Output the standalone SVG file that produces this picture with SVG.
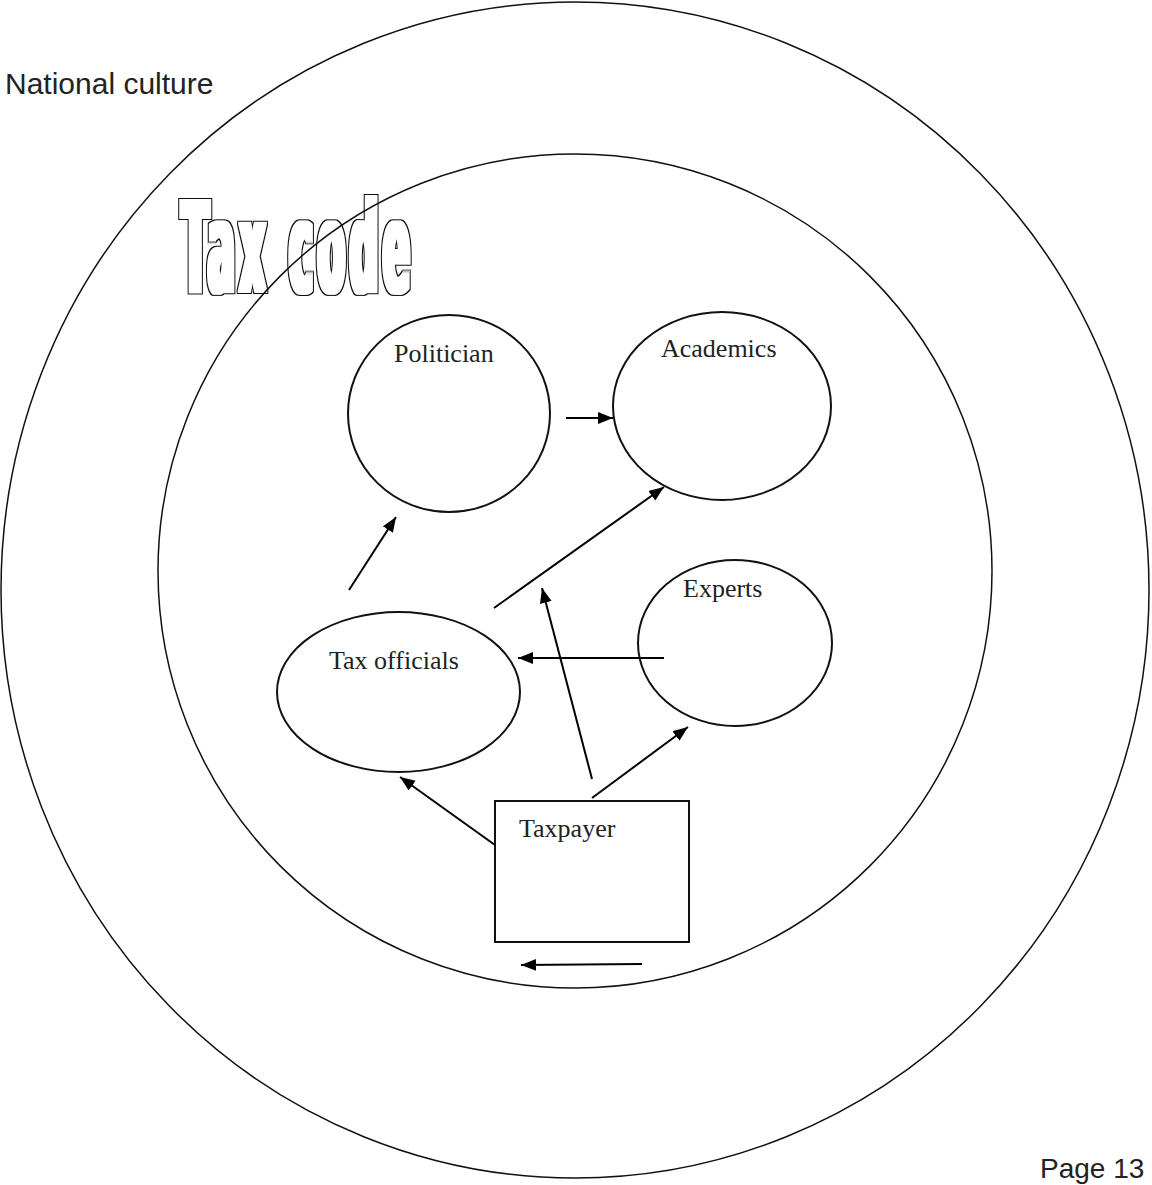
<svg xmlns="http://www.w3.org/2000/svg" width="1152" height="1185" viewBox="0 0 1152 1185">
<defs>
<marker id="ah" markerUnits="userSpaceOnUse" markerWidth="17" markerHeight="13" refX="15" refY="6" orient="auto">
<path d="M0,0 L15,6 L0,12 Z" fill="#000"/>
</marker>
<filter id="outline" x="-5%" y="-15%" width="110%" height="130%">
<feMorphology in="SourceAlpha" operator="dilate" radius="2.5 1" result="fat"/>
<feMorphology in="fat" operator="dilate" radius="1.4" result="fatter"/>
<feComposite in="fatter" in2="fat" operator="out" result="ring"/>
<feFlood flood-color="#111"/>
<feComposite in2="ring" operator="in"/>
</filter>
<style>
.ring{fill:none;stroke:#111;stroke-width:1.5}
.node{fill:none;stroke:#111;stroke-width:2}
.lbl{font-family:"Liberation Serif","Times New Roman",serif;font-size:26px;fill:#222}
.conn line{stroke:#000;stroke-width:2;marker-end:url(#ah)}
.sans{font-family:"Liberation Sans",Arial,sans-serif;fill:#222}
</style>
</defs>
<rect width="1152" height="1185" fill="#fff"/>
<g id="national-culture">
<ellipse class="ring" cx="575" cy="590" rx="574" ry="588"/>
<text class="sans" x="5" y="94" font-size="30">National culture</text>
</g>
<g id="tax-code">
<ellipse class="ring" cx="575" cy="571" rx="417" ry="417"/>
<g filter="url(#outline)">
<text transform="translate(182,292) scale(0.34,1)" x="0" y="0" font-family="DejaVu Sans Condensed,DejaVu Sans,sans-serif" font-weight="bold" font-size="127" letter-spacing="16" fill="#000">Tax code</text>
</g>
</g>
<g id="politician">
<ellipse class="node" cx="449" cy="413.5" rx="101" ry="98.5"/>
<text class="lbl" x="394" y="362">Politician</text>
</g>
<g id="academics">
<ellipse class="node" cx="722" cy="406" rx="109" ry="94"/>
<text class="lbl" x="661" y="357">Academics</text>
</g>
<g id="experts">
<ellipse class="node" cx="735" cy="643" rx="97" ry="83"/>
<text class="lbl" x="683" y="597">Experts</text>
</g>
<g id="tax-officials">
<ellipse class="node" cx="398.5" cy="692" rx="121.5" ry="80"/>
<text class="lbl" x="329" y="669">Tax officials</text>
</g>
<g id="taxpayer">
<rect class="node" x="495" y="801" width="194" height="141"/>
<text class="lbl" x="519" y="837">Taxpayer</text>
</g>
<g id="connectors" class="conn">
<line x1="566" y1="418" x2="613" y2="418"/>
<line x1="349" y1="590" x2="396" y2="517"/>
<line x1="494" y1="608" x2="664" y2="487"/>
<line x1="592" y1="779" x2="542" y2="588"/>
<line x1="664" y1="658" x2="518" y2="658"/>
<line x1="495" y1="845" x2="400" y2="777"/>
<line x1="592" y1="798" x2="688" y2="727"/>
<line x1="642" y1="964" x2="521" y2="965"/>
</g>
<text class="sans" x="1040" y="1178" font-size="28">Page 13</text>
</svg>
